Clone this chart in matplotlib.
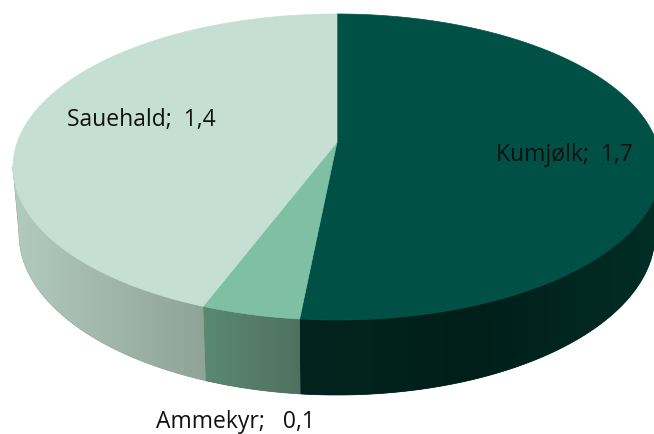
import numpy as np
import matplotlib
matplotlib.use('Agg')
import matplotlib.pyplot as plt
from matplotlib.patches import Polygon
from matplotlib.colors import LinearSegmentedColormap

categories = ['Kumjølk', 'Ammekyr', 'Sauehald']
values = [1.69, 0.161, 1.409]
value_labels = ['1,7', '0,1', '1,4']
separators = [';  ', ';   ', ';  ']
top_colors = ['#005045', '#7fbfa3', '#c5dfd4']
side_colors = [['#002e27', '#011f19', '#03241e'],
               ['#5a8a72', '#50705f'],
               ['#b2cac0', '#8fa398']]
label_pos = [(564, 161), (235, 428.5), (141, 126)]

# geometri for kakediagrammet, i pikslar
apex = (337, 143)
top_rim = (337, 168, 324, 153)
bottom_rim = (337, 235, 318, 161)


def rim(theta, e):
    # theta er vinkel med klokka fra toppen
    return e[0] + e[2] * np.sin(theta), e[1] - e[3] * np.cos(theta)


fig = plt.figure(figsize=(6.54, 4.35), dpi=100)
ax = fig.add_axes([0, 0, 1, 1])
ax.axis('off')

edges = np.cumsum([0] + values) / sum(values) * 2 * np.pi

for i in range(len(values)):
    t = np.linspace(edges[i], edges[i + 1], 300)
    x, y = rim(t, top_rim)

    # sideflate, berre den nedre delen blir synleg
    tv = np.linspace(max(edges[i], np.pi / 2), min(edges[i + 1], 3 * np.pi / 2), 300)
    sx, sy = rim(tv, top_rim)
    bx, by = rim(tv, bottom_rim)
    side = np.column_stack([np.r_[sx, bx[::-1]], np.r_[sy, by[::-1]]])
    # flata under gradienten tettar skøytene mellom bitane
    ax.add_patch(Polygon(side, closed=True, fc=side_colors[i][-1], ec=side_colors[i][-1],
                         lw=0.5, zorder=0.9))
    patch = Polygon(side, closed=True, fc='none', ec='none')
    ax.add_patch(patch)
    cmap = LinearSegmentedColormap.from_list('side', side_colors[i])
    grad = np.linspace(0, 1, 256)[None, :]
    if i == 0:
        grad = grad[:, ::-1]
    im = ax.imshow(grad, cmap=cmap, aspect='auto', zorder=1,
                   extent=[side[:, 0].min(), side[:, 0].max(), side[:, 1].max(), side[:, 1].min()])
    im.set_clip_path(patch)

    # toppflate
    top = np.column_stack([np.r_[apex[0], x], np.r_[apex[1], y]])
    ax.add_patch(Polygon(top, closed=True, fc=top_colors[i], ec=top_colors[i], lw=0.5, zorder=2))

ax.set_xlim(0, 654)
ax.set_ylim(435, 0)

for name, sep, val, pos in zip(categories, separators, value_labels, label_pos):
    ax.text(pos[0], pos[1], f'{name}{sep}{val}', ha='center', va='baseline', zorder=3,
            family='Open Sans', fontsize=16.5, color='#111111')

fig.savefig('out.png', dpi=100)
